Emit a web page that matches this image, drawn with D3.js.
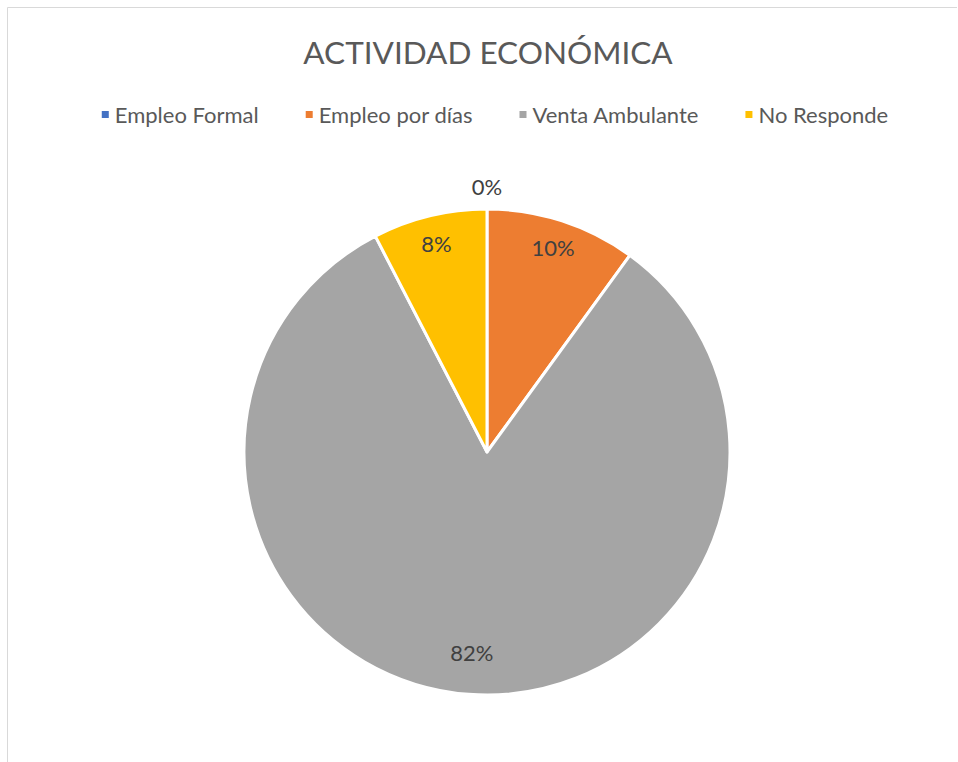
<!DOCTYPE html>
<html>
<head>
<meta charset="utf-8">
<script src="https://cdn.jsdelivr.net/npm/d3@7"></script>
<style>
  html, body { margin: 0; padding: 0; background: #fff; }
  svg { display: block; }
</style>
</head>
<body>
<svg id="chart" width="958" height="762"></svg>
<script>
const title = "ACTIVIDAD ECONÓMICA";
const categories = ["Empleo Formal", "Empleo por días", "Venta Ambulante", "No Responde"];
const values = [0, 10, 82.4, 7.6];
const colors = ["#4472C4", "#ED7D31", "#A5A5A5", "#FFC000"];

const W = 958, H = 762;
const svg = d3.select("#chart");
const font = "Lato, 'Open Sans', sans-serif";

// chart area border (cropped on right/bottom)
svg.append("path")
  .attr("d", "M7.5,762 L7.5,7.5 L957,7.5")
  .attr("fill", "none").attr("stroke", "#D9D9D9").attr("stroke-width", 1);

svg.append("text")
  .attr("x", 488).attr("y", 64)
  .attr("text-anchor", "middle")
  .attr("font-family", font).attr("font-size", 31.5)
  .attr("fill", "#595959")
  .text(title);

// legend
const legend = svg.append("g").attr("font-family", font).attr("font-size", 22).attr("fill", "#595959");
const items = legend.selectAll("g").data(categories).join("g");
items.append("rect").attr("width", 7).attr("height", 7).attr("y", -4)
  .attr("fill", (d, i) => colors[i]);
items.append("text").attr("x", 13).attr("y", 7.5).text(d => d);
const gap = 47;
let widths = [];
items.each(function() { widths.push(this.getBBox().width); });
const total = d3.sum(widths) + gap * (widths.length - 1);
let x0 = 495 - total / 2;
items.attr("transform", (d, i) => {
  const x = x0; x0 += widths[i] + gap;
  return `translate(${x},115)`;
});

// pie
const cx = 487, cy = 452, r = 243;
const pie = d3.pie().sort(null).value(d => d);
const arcs = pie(values);
const arc = d3.arc().innerRadius(0).outerRadius(r);
const g = svg.append("g").attr("transform", `translate(${cx},${cy})`);
g.selectAll("path").data(arcs).join("path")
  .attr("d", arc)
  .attr("fill", (d, i) => colors[i])
  .attr("stroke", "#fff").attr("stroke-width", 3).attr("stroke-linejoin", "round");

const fmt = d3.format(".0f");
g.selectAll("text.lbl").data(arcs).join("text")
  .attr("class", "lbl")
  .attr("font-family", font).attr("font-size", 22)
  .attr("fill", "#404040")
  .attr("text-anchor", "middle")
  .attr("dy", "0.35em")
  .attr("transform", d => {
    const a = (d.startAngle + d.endAngle) / 2;
    const rr = (d.endAngle - d.startAngle) < 0.01 ? r + 22 : (d.endAngle - d.startAngle) > Math.PI ? r * 0.83 : r * 0.88;
    return `translate(${Math.sin(a) * rr},${-Math.cos(a) * rr})`;
  })
  .text(d => fmt(d.data) + "%");
</script>
</body>
</html>
